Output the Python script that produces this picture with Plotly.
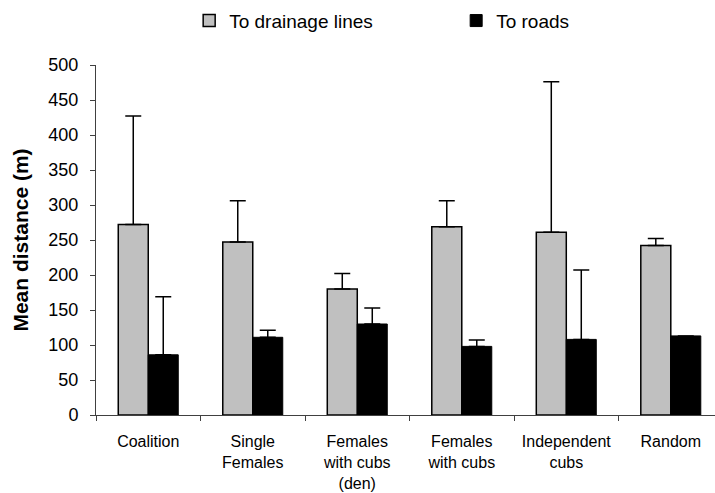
import plotly.graph_objects as go

categories = ["Coalition", "Single<br>Females", "Females<br>with cubs<br>(den)",
              "Females<br>with cubs", "Independent<br>cubs", "Random"]
drainage = [272, 247, 180, 269, 261, 242]
drainage_err = [155, 59, 22, 37, 215, 10]
roads = [86, 111, 130, 98, 108, 113]
roads_err = [83, 10, 23, 9, 99, 0]

FONT = "Liberation Sans, Arial, sans-serif"

fig = go.Figure()
fig.add_trace(go.Bar(
    x=categories, y=drainage, name="To drainage lines",
    marker=dict(color="#C0C0C0", line=dict(color="black", width=1.5)),
    error_y=dict(type="data", symmetric=False, array=drainage_err,
                 arrayminus=[0] * len(drainage_err), color="black",
                 thickness=1.5, width=8),
))
fig.add_trace(go.Bar(
    x=categories, y=roads, name="To roads",
    marker=dict(color="black", line=dict(color="black", width=1)),
    error_y=dict(type="data", symmetric=False, array=roads_err,
                 arrayminus=[0] * len(roads_err), color="black",
                 thickness=1.5, width=8),
))

fig.update_layout(
    width=715, height=493,
    margin=dict(l=96, r=0, t=65, b=78),
    paper_bgcolor="white", plot_bgcolor="white",
    barmode="group", bargap=0.426, bargroupgap=0,
    font=dict(family=FONT, color="black"),
    showlegend=True,
    legend=dict(orientation="h", xref="container", yref="container",
                x=0.638, y=0.958, xanchor="center", yanchor="middle",
                font=dict(size=19, family=FONT), entrywidth=222,
                itemwidth=30),
)
fig.update_xaxes(
    type="category", range=[-0.5, 5.423], tickson="boundaries",
    showline=True, linecolor="#404040", linewidth=1,
    ticks="outside", ticklen=5, tickcolor="#404040",
    tickfont=dict(size=16, family=FONT), ticklabelstandoff=12,
    showgrid=False, zeroline=False,
)
fig.update_yaxes(
    range=[0, 500], dtick=50, tick0=0,
    showline=True, linecolor="#404040", linewidth=1,
    ticks="outside", ticklen=5, tickcolor="#404040",
    tickfont=dict(size=18, family=FONT), ticklabelstandoff=8,
    showgrid=False, zeroline=False,
    title=dict(text="<b>Mean distance (m)</b>", font=dict(size=21, family=FONT),
               standoff=14),
)

fig.write_html("out.html")
